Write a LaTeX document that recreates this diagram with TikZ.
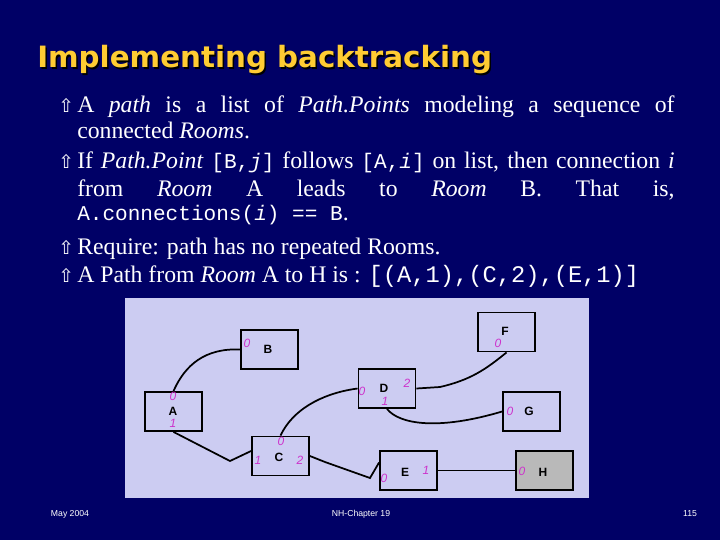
\documentclass[tikz,border=0pt]{standalone}
\usepackage{fontspec}
\setmainfont{Liberation Serif}
\setmonofont{Liberation Mono}
\setsansfont{Liberation Sans}
\newfontfamily\titlefont{DejaVu Sans}
\newfontfamily\symfont{DejaVu Sans}
\usetikzlibrary{calc}
\definecolor{slidebg}{HTML}{000066}
\definecolor{panel}{HTML}{CCCCF2}
\definecolor{titleyel}{HTML}{FFCC33}
\definecolor{portmag}{HTML}{CC33CC}
\tikzstyle{room}=[draw, line width=1.4pt, fill=panel, minimum width=42.75pt, minimum height=29.25pt, inner sep=0pt]
\tikzstyle{port}=[text=portmag, font=\sffamily\itshape\fontsize{9}{9}\selectfont, inner sep=0pt]
\tikzstyle{link}=[line width=1.3pt]
\tikzstyle{line}=[anchor=base west, text=white, inner sep=0pt, font=\fontsize{17.8}{17.8}\selectfont]
\tikzstyle{bullet}=[anchor=base west, text=white, inner sep=0pt, font=\symfont\fontsize{14}{14}\selectfont]
\tikzstyle{foot}=[text=white, inner sep=0pt, font=\sffamily\fontsize{6.5}{6.5}\selectfont]
\newcommand{\room}{\node[room]}
\newcommand{\spread}[1]{\makebox[448pt][s]{#1}}
\newcommand{\code}[1]{{\ttfamily\fontsize{15.8}{15.8}\selectfont #1}}

\begin{document}
\begin{tikzpicture}[x=0.75pt, y=-0.75pt]
\useasboundingbox (0,0) rectangle (720,540);
\fill[slidebg] (0,0) rectangle (720,540);
% title
\node[anchor=west, text=black, font=\titlefont\bfseries\fontsize{22}{22}\selectfont, inner sep=0pt] (shadow) at (38.5,61.5) {Implementing backtracking};
\node[anchor=west, text=titleyel, font=\titlefont\bfseries\fontsize{22}{22}\selectfont, inner sep=0pt] (title) at (37,60) {Implementing backtracking};
% bullets
\node[bullet] (b1) at (58,112) {⇧};
\node[bullet] (b2) at (58,168) {⇧};
\node[bullet] (b3) at (58,254) {⇧};
\node[bullet] (b4) at (58,282) {⇧};
\node[line] (l1) at (77,112) {\spread{A \textit{path} is a list of \textit{Path.Points} modeling a sequence of}};
\node[line] (l2) at (77,138) {connected \textit{Rooms}.};
\node[line] (l3) at (77,168) {\spread{If \textit{Path.Point} \code{[B,\textit{j}]} follows \code{[A,\textit{i}]} on list, then connection \textit{i}}};
\node[line] (l4) at (77,196) {\spread{from \textit{Room} A leads to \textit{Room} B. That is,}};
\node[line] (l5) at (77,220) {\code{A.connections(\textit{i}) == B}.};
\node[line] (l6) at (77,254) {Require: path has no repeated Rooms.};
\node[line] (l7) at (77,282) {A Path from \textit{Room} A to H is : \texttt{[(A,1),(C,2),(E,1)]}};
% diagram
\fill[panel] (125,298) rectangle (589,498);
\room (A) at (173.5,411.5) {};
\room (B) at (269.5,349.5) {};
\room (C) at (280.5,456) {};
\room (D) at (387,388.5) {};
\room (E) at (408.5,470.5) {};
\room[fill=gray!55] (H) at (544.5,470.5) {};
\room (F) at (506.5,332) {};
\room (G) at (531.5,411.5) {};
\foreach \n/\p in {A/{(173,411)}, B/{(268,349)}, C/{(279,457)}, D/{(384,388)}, E/{(405,472)}, F/{(505,331)}, G/{(529,411)}, H/{(543,472)}}
  \node[font=\sffamily\bfseries\fontsize{9}{9}\selectfont, inner sep=0pt] at \p {\n};
% ports
\node[port] at (247,343) {0};
\node[port] at (173,396) {0};
\node[port] at (173,423) {1};
\node[port] at (281,441) {0};
\node[port] at (258,460) {1};
\node[port] at (300,460) {2};
\node[port] at (362,391) {0};
\node[port] at (407,383) {2};
\node[port] at (385,401) {1};
\node[port] at (498,343) {0};
\node[port] at (510,411) {0};
\node[port] at (384,478) {0};
\node[port] at (426,470) {1};
\node[port] at (522,471) {0};
% connections
\draw[link] (A.north) .. controls (185,365) and (205,348) .. (B.west);
\draw[link] (A.south) -- (230,461) -- ($(C.west)+(0,-5)$);
\draw[link] (C.north) .. controls (295,405) and (330,392) .. (D.west);
\draw[link] (D.east) -- (440,387) .. controls (470,380) and (485,370) .. (F.south);
\draw[link] (D.south) .. controls (400,425) and (440,430) .. (G.west);
\draw[link] (C.east) -- (325,462) -- (370,478) -- ($(E.west)+(0,-8)$);
\draw[link] (E.east) -- (H.west);
% footer
\node[foot] (date) at (70,514) {May 2004};
\node[foot] (chap) at (361,514) {NH-Chapter 19};
\node[foot] (page) at (690,514) {115};
\end{tikzpicture}
\end{document}
